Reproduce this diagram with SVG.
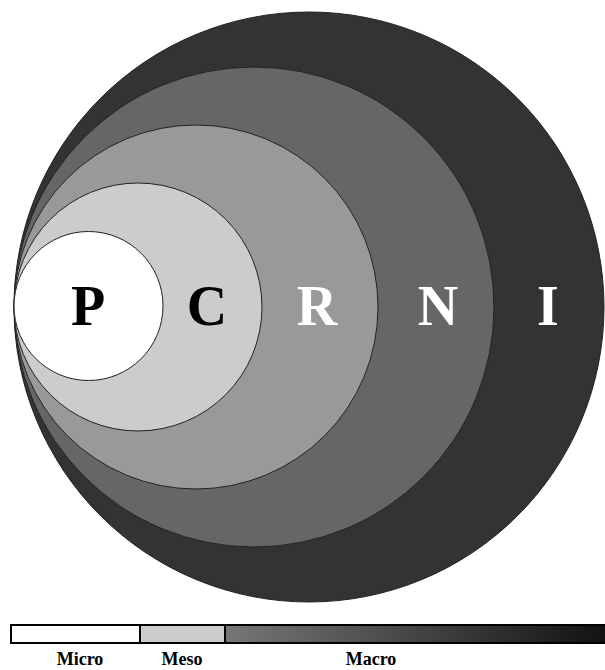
<svg xmlns="http://www.w3.org/2000/svg" width="605" height="670" viewBox="0 0 605 670">
<style>
.ring{stroke:#222;stroke-width:1}
.big{font-family:"Liberation Serif",serif;font-weight:bold;font-size:56px;text-anchor:middle}
.lab{font-family:"Liberation Serif",serif;font-weight:bold;font-size:18px;text-anchor:middle;fill:#000}
</style>
<defs>
<linearGradient id="macro" x1="0" y1="0" x2="1" y2="0">
<stop offset="0" stop-color="#777"/>
<stop offset="1" stop-color="#111"/>
</linearGradient>
</defs>
<rect width="605" height="670" fill="#fff"/>
<g id="I"><circle class="ring" cx="309" cy="307" r="295" fill="#333"/><text class="big" x="548" y="325" fill="#fff">I</text></g>
<g id="N"><circle class="ring" cx="254" cy="307" r="240" fill="#666"/><text class="big" x="438" y="325" fill="#fff">N</text></g>
<g id="R"><circle class="ring" cx="196" cy="307" r="182" fill="#999"/><text class="big" x="317" y="325" fill="#fff">R</text></g>
<g id="C"><circle class="ring" cx="138" cy="307" r="124" fill="#ccc"/><text class="big" x="207" y="325" fill="#000">C</text></g>
<g id="P"><circle class="ring" cx="88.5" cy="306" r="74.5" fill="#fff"/><text class="big" x="88" y="325" fill="#000">P</text></g>
<g id="legend">
<rect x="11" y="625" width="129" height="18" fill="#fff" stroke="#000" stroke-width="2"/>
<rect x="140" y="625" width="85" height="18" fill="#ccc" stroke="#000" stroke-width="2"/>
<rect x="225" y="625" width="385" height="18" fill="url(#macro)" stroke="#000" stroke-width="2"/>
<text class="lab" x="80" y="665">Micro</text>
<text class="lab" x="182" y="665">Meso</text>
<text class="lab" x="371" y="665">Macro</text>
</g>
</svg>
